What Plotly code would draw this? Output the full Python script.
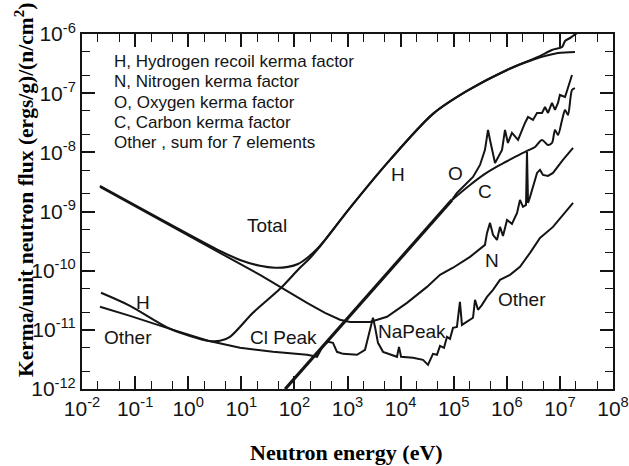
import plotly.graph_objects as go

# ---------------- data ----------------
# Total kerma factor
E_total = [0.0218, 3.97, 9.46, 22.5, 43.1, 75.7, 117, 173, 267, 377, 1114, 6310,
           4.07e4, 1.78e5, 1.01e6, 3.87e6, 7.10e6, 1.10e7, 1.25e7, 1.55e7, 2.10e7]
K_total = [2.71e-9, 2.16e-10, 1.52e-10, 1.21e-10, 1.12e-10, 1.16e-10, 1.30e-10, 1.64e-10,
           2.33e-10, 3.31e-10, 1.15e-9, 7.45e-9, 4.46e-8, 1.09e-7, 2.47e-7, 4.08e-7,
           5.37e-7, 6.03e-7, 7.62e-7, 8.56e-7, 1.04e-6]

# H, hydrogen recoil kerma factor
E_h = [0.0228, 0.0802, 0.454, 2.36, 3.97, 6.12, 16.6, 53.6, 127, 197, 278, 1114, 6310,
       4.07e4, 1.78e5, 1.01e6, 3.40e6, 9.21e6, 1.92e7]
K_h = [4.22e-11, 2.54e-11, 1.04e-11, 6.52e-12, 6.52e-12, 7.62e-12, 1.94e-11, 4.93e-11,
       1.12e-10, 1.64e-10, 2.33e-10, 1.15e-9, 7.45e-9, 4.46e-8, 1.09e-7, 2.47e-7,
       3.78e-7, 4.77e-7, 4.96e-7]

# N, nitrogen kerma factor
E_n = [0.0218, 22.5, 173, 377, 722, 1114, 2655, 5546, 1.32e4, 3.14e4, 5.52e4, 9.70e4,
       2.03e5, 3.88e5, 4.24e5, 4.83e5, 5.50e5, 6.53e5, 7.45e5, 8.48e5, 1.01e6, 1.25e6,
       1.56e6, 1.77e6, 2.02e6, 2.30e6, 2.40e6, 2.51e6, 2.74e6, 3.71e6, 4.22e6, 4.81e6,
       5.97e6, 7.41e6, 1.14e7, 1.77e7]
K_n = [2.60e-9, 8.49e-11, 2.86e-11, 1.94e-11, 1.48e-11, 1.36e-11, 1.36e-11, 1.66e-11,
       2.86e-11, 5.32e-11, 8.49e-11, 1.12e-10, 1.71e-10, 2.73e-10, 4.35e-10, 6.42e-10,
       4.03e-10, 3.31e-10, 5.49e-10, 3.87e-10, 7.21e-10, 6.18e-10, 9.47e-10, 1.57e-9,
       1.20e-9, 1.29e-9, 1.02e-8, 1.40e-9, 1.77e-9, 4.49e-9, 5.05e-9, 4.15e-9, 3.99e-9,
       4.49e-9, 7.45e-9, 1.19e-8]

# O and C share the same elastic-scattering line at low energy
E_oc = [67, 9.30e4]
K_oc = [1.0e-12, 1.57e-9]

# O, oxygen kerma factor (above the split)
E_o = [9.30e4, 1.15e5, 2.31e5, 3.13e5, 3.88e5, 4.43e5, 4.83e5, 5.26e5, 6.00e5, 8.13e5,
       9.25e5, 1.05e6, 1.25e6, 1.63e6, 1.93e6, 2.20e6, 2.51e6, 3.11e6, 3.71e6, 4.60e6,
       5.24e6, 5.97e6, 7.10e6, 8.09e6, 9.21e6, 1.00e7, 1.25e7, 1.42e7, 1.69e7]
K_o = [1.57e-9, 2.06e-9, 3.84e-9, 6.12e-9, 1.10e-8, 2.39e-8, 1.62e-8, 1.10e-8, 6.62e-9,
       1.10e-8, 2.39e-8, 1.44e-8, 2.13e-8, 1.62e-8, 2.39e-8, 3.14e-8, 3.96e-8, 3.53e-8,
       4.63e-8, 4.63e-8, 5.85e-8, 4.63e-8, 6.83e-8, 5.20e-8, 6.83e-8, 9.33e-8, 8.63e-8,
       1.22e-7, 2.03e-7]

# C, carbon kerma factor (above the split)
E_c = [9.30e4, 2.03e5, 3.88e5, 7.45e5, 1.43e6, 2.40e6, 3.40e6, 4.60e6, 5.97e6, 7.10e6,
       8.09e6, 9.21e6, 1.10e7, 1.25e7, 1.42e7, 1.69e7, 1.92e7]
K_c = [1.57e-9, 2.81e-9, 4.32e-9, 6.12e-9, 8.36e-9, 1.06e-8, 1.23e-8, 1.62e-8, 1.33e-8,
       1.44e-8, 2.39e-8, 1.97e-8, 3.53e-8, 5.20e-8, 4.29e-8, 1.13e-7, 1.22e-7]

# Other, sum for 7 elements
E_other = [0.0218, 0.0802, 0.454, 2.36, 9.46, 39.5, 173, 267, 346, 429, 533, 634, 823,
           1510, 2138, 2432, 3020, 3296, 3750, 4667, 8551, 9332, 1.02e4, 1.71e4, 2.64e4,
           3.28e4, 4.07e4, 4.84e4, 5.52e4, 6.56e4, 7.48e4, 8.51e4, 9.70e4, 1.15e5, 1.31e5,
           1.43e5, 1.78e5, 2.31e5, 2.52e5, 2.87e5, 3.41e5, 4.24e5, 5.50e5, 7.45e5, 1.15e6,
           1.77e6, 2.74e6, 4.22e6, 7.41e6, 1.77e7]
K_other = [2.45e-11, 1.72e-11, 1.04e-11, 6.52e-12, 4.97e-12, 4.25e-12, 3.78e-12, 3.50e-12,
           5.37e-12, 6.27e-12, 6.03e-12, 4.25e-12, 3.93e-12, 3.78e-12, 4.59e-12, 7.62e-12,
           1.60e-11, 1.12e-11, 6.03e-12, 4.25e-12, 3.50e-12, 5.16e-12, 3.50e-12, 3.37e-12,
           3.11e-12, 2.56e-12, 3.93e-12, 3.78e-12, 5.37e-12, 4.97e-12, 7.62e-12, 7.05e-12,
           1.08e-11, 1.12e-11, 2.97e-11, 1.21e-11, 1.36e-11, 1.60e-11, 3.21e-11, 2.18e-11,
           2.64e-11, 3.61e-11, 4.74e-11, 7.00e-11, 8.49e-11, 1.16e-10, 2.00e-10, 3.58e-10,
           5.49e-10, 1.40e-9]

# tick labels
x_tick_vals = [1e-2, 1e-1, 1e0, 1e1, 1e2, 1e3, 1e4, 1e5, 1e6, 1e7, 1e8]
x_tick_text = ["10<sup>-2</sup>", "10<sup>-1</sup>", "10<sup>0</sup>", "10<sup>1</sup>",
               "10<sup>2</sup>", "10<sup>3</sup>", "10<sup>4</sup>", "10<sup>5</sup>",
               "10<sup>6</sup>", "10<sup>7</sup>", "10<sup>8</sup>"]
y_tick_vals = [1e-12, 1e-11, 1e-10, 1e-9, 1e-8, 1e-7, 1e-6]
y_tick_text = ["10<sup>-12</sup>", "10<sup>-11</sup>", "10<sup>-10</sup>", "10<sup>-9</sup>",
               "10<sup>-8</sup>", "10<sup>-7</sup>", "10<sup>-6</sup>"]

legend_lines = ["H, Hydrogen recoil kerma factor",
                "N, Nitrogen kerma factor",
                "O, Oxygen kerma factor",
                "C, Carbon kerma factor",
                "Other , sum for 7 elements"]

# curve labels: (text, log10 E, log10 K)
curve_labels = [("Total", 1.48, -9.24), ("H", -0.85, -10.54), ("Other", -1.13, -11.13),
                ("Cl Peak", 1.79, -11.13), ("NaPeak", 4.22, -11.02), ("H", 3.95, -8.38),
                ("O", 5.04, -8.35), ("C", 5.59, -8.67), ("N", 5.72, -9.82),
                ("Other", 6.29, -10.49)]

# ---------------- figure ----------------
fig = go.Figure()
ink = "#141414"
traces = [(E_total, K_total, 2.1, "spline"), (E_h, K_h, 2.1, "spline"), (E_n, K_n, 2, "linear"),
          (E_oc, K_oc, 3.2, "linear"), (E_o, K_o, 2, "linear"), (E_c, K_c, 2, "spline"),
          (E_other, K_other, 2, "linear")]
for E, K, w, shape in traces:
    line = dict(color=ink, width=w, shape=shape)
    if shape == "spline":
        line["smoothing"] = 0.8
    fig.add_trace(go.Scatter(x=E, y=K, mode="lines", line=line,
                             showlegend=False, hoverinfo="skip"))

sans = "Liberation Sans, Arial, sans-serif"
serif = "Liberation Serif, Times New Roman, serif"

x_minor = [m * 10.0 ** k for k in range(-2, 8) for m in (2, 5)]
y_minor = [m * 10.0 ** k for k in range(-12, -6) for m in (2, 5)]

axis_common = dict(type="log", showline=True, linecolor=ink, linewidth=2, mirror="ticks",
                   ticks="inside", ticklen=13, tickwidth=1.6, tickcolor=ink,
                   showgrid=False, zeroline=False, automargin=False,
                   tickfont=dict(family=sans, size=21, color=ink))

fig.update_xaxes(range=[-2, 8], tickvals=x_tick_vals, ticktext=x_tick_text,
                 minor=dict(tickvals=x_minor, ticks="inside", ticklen=8, tickwidth=1.4,
                            tickcolor=ink, showgrid=False),
                 **axis_common)
fig.update_yaxes(range=[-12, -6], tickvals=y_tick_vals, ticktext=y_tick_text,
                 minor=dict(tickvals=y_minor, ticks="inside", ticklen=8, tickwidth=1.4,
                            tickcolor=ink, showgrid=False),
                 **axis_common)

annotations = []
for i, txt in enumerate(legend_lines):
    annotations.append(dict(x=-1.44, y=-6.47 - i * 0.34, xref="x", yref="y", text=txt,
                            showarrow=False, xanchor="left", yanchor="middle",
                            font=dict(family=sans, size=17, color=ink)))
for txt, lx, ly in curve_labels:
    annotations.append(dict(x=lx, y=ly, xref="x", yref="y", text=txt, showarrow=False,
                            xanchor="center", yanchor="middle",
                            font=dict(family=sans, size=19, color=ink)))
annotations.append(dict(x=0.499, y=-0.18, xref="paper", yref="paper",
                        text="<b>Neutron energy (eV)</b>", showarrow=False,
                        xanchor="center", yanchor="middle",
                        font=dict(family=serif, size=22, color="black")))
annotations.append(dict(x=-0.107, y=0.561, xref="paper", yref="paper", textangle=-90,
                        text="<b>Kerma/unit neutron flux (ergs/g)/(n/cm<sup>2</sup>)</b>",
                        showarrow=False, xanchor="center", yanchor="middle",
                        font=dict(family=serif, size=21.5, color="black")))

fig.update_layout(width=629, height=466, margin=dict(l=82, r=16, t=34, b=77),
                  paper_bgcolor="white", plot_bgcolor="white", annotations=annotations)

fig.write_html("out.html", config={"displayModeBar": False},
               post_script="document.body.style.margin='0';")
